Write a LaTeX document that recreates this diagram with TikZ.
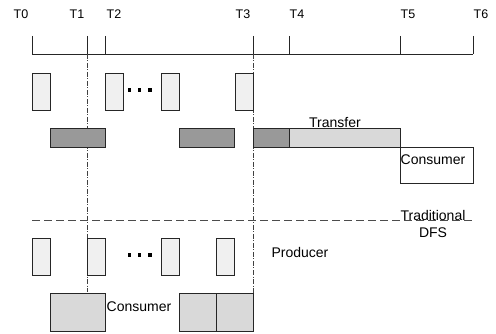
\documentclass[tikz,border=0pt]{standalone}
\usepackage{fontspec}
\setmainfont{Liberation Sans}
\begin{document}
\begin{tikzpicture}[x=1pt,y=-1pt,
  every node/.style={font=\fontsize{14}{16}\selectfont},
  tlabel/.style={font=\fontsize{12.5}{14}\selectfont,inner sep=0},
  txt/.style={inner sep=0},
  bx/.style={draw=black!85,line width=0.9pt,anchor=north west,inner sep=0},
  lbox/.style={bx,fill=black!6,minimum width=18pt,minimum height=37pt},
  dbox/.style={bx,fill=black!40,minimum height=19pt},
  gbox/.style={bx,fill=black!15},
  wbox/.style={bx,fill=white},
  dotsq/.style={fill=black,minimum size=3.5pt,inner sep=0},
  axis/.style={draw=black!85,line width=0.8pt},
  dashdot/.style={draw=black!75,line width=0.8pt,dash pattern=on 5pt off 1.5pt on 1pt off 1.5pt},
  sep/.style={draw=black!70,line width=0.8pt,dash pattern=on 8pt off 4pt}
]
\useasboundingbox (0,0) rectangle (496,334);

% timeline
\coordinate (a0) at (32,54);
\coordinate (a6) at (473,54);
\foreach \n/\x in {0/32,1/87,2/105,3/253,4/289,5/400,6/473}{
  \coordinate (t\n) at (\x,36);
  \coordinate (b\n) at (\x,54);
  \draw[axis] (t\n) -- (b\n);
}
\draw[axis] (a0) -- (a6);
\node[tlabel] (T0) at (21,14) {T0};
\node[tlabel] (T1) at (77,14) {T1};
\node[tlabel] (T2) at (114,14) {T2};
\node[tlabel] (T3) at (243,14) {T3};
\node[tlabel] (T4) at (297,14) {T4};
\node[tlabel] (T5) at (408,14) {T5};
\node[tlabel] (T6) at (481,14) {T6};

% vertical markers
\coordinate (v1) at (87,292);
\coordinate (v3) at (253,330);
\draw[dashdot] (b1) -- (v1);
\draw[dashdot] (b3) -- (v3);

% separator
\coordinate (s0) at (32,220);
\coordinate (s1) at (473,220);
\draw[sep] (s0) -- (s1);

% upper row
\node[lbox] (u1) at (32,73) {};
\node[lbox] (u2) at (105,73) {};
\node[lbox] (u3) at (161,73) {};
\node[lbox] (u4) at (234.5,73) {};
\node[dotsq] (ud1) at (129.5,90) {};
\node[dotsq] (ud2) at (139.5,90) {};
\node[dotsq] (ud3) at (150,90) {};

\node[dbox,minimum width=55pt] (d1) at (50,128) {};
\node[dbox,minimum width=55pt] (d2) at (179,128) {};
\node[dbox,minimum width=36pt] (d3) at (253,128) {};
\node[gbox,minimum width=111pt,minimum height=19pt] (tr) at (289,128) {};
\node[txt] (trl) at (335,123) {Transfer};
\node[wbox,minimum width=73pt,minimum height=36pt] (cons) at (400,147) {};
\node[txt,anchor=west] (consl) at (400.5,160) {Consumer};

\node[txt] (trad) at (433,215) {Traditional};
\node[txt] (dfs) at (433,233) {DFS};
\node[txt] (prod) at (300,252) {Producer};

% lower row
\node[lbox] (l1) at (32,238) {};
\node[lbox] (l2) at (87,238) {};
\node[lbox] (l3) at (161,238) {};
\node[lbox] (l4) at (215.5,238) {};
\node[dotsq] (ld1) at (129.5,255) {};
\node[dotsq] (ld2) at (139.5,255) {};
\node[dotsq] (ld3) at (150,255) {};

\node[gbox,minimum width=55pt,minimum height=38pt] (c1) at (50,293) {};
\node[gbox,minimum width=37pt,minimum height=38pt] (c2) at (179,293) {};
\node[gbox,minimum width=37pt,minimum height=38pt] (c3) at (216,293) {};
\node[txt] (cl) at (139,307) {Consumer};
\end{tikzpicture}
\end{document}
